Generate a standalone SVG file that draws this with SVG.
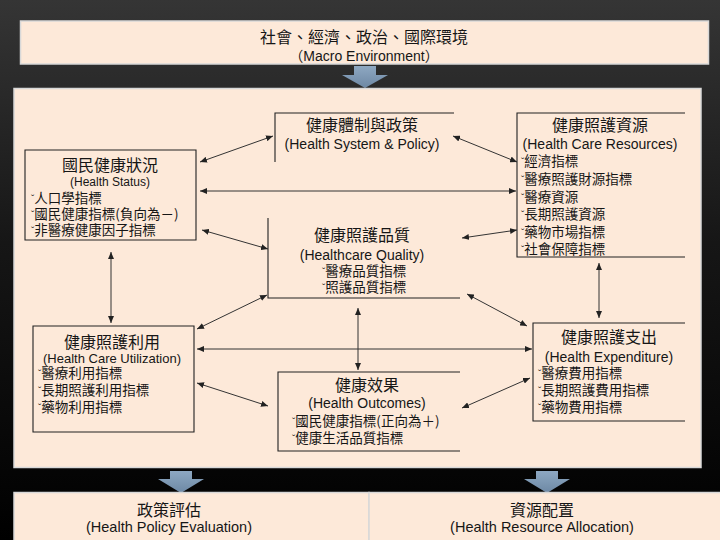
<svg xmlns="http://www.w3.org/2000/svg" width="720" height="540" viewBox="0 0 720 540">
<defs>
<linearGradient id="bg" x1="0" y1="0" x2="0" y2="1">
<stop offset="0" stop-color="#353535"/>
<stop offset="0.45" stop-color="#161616"/>
<stop offset="1" stop-color="#000"/>
</linearGradient>
<linearGradient id="ba" x1="0" y1="0" x2="0" y2="1">
<stop offset="0" stop-color="#8ea8c2"/>
<stop offset="1" stop-color="#6d88a4"/>
</linearGradient>
<marker id="ah" markerUnits="userSpaceOnUse" markerWidth="7" markerHeight="6" refX="7" refY="3" orient="auto-start-reverse">
<path d="M0,0 L7,3 L0,6 z" fill="#222"/>
</marker>
</defs>
<style>
.panel{fill:#FDE9D9;stroke:#d8d8d8;stroke-width:1.5}
.edge{fill:none;stroke:#222;stroke-width:1.1}
.con line{stroke:#333;stroke-width:1;marker-start:url(#ah);marker-end:url(#ah)}
text{font-family:"Liberation Sans","Noto Sans CJK TC",sans-serif;fill:#161616}
.t{font-family:"Noto Sans CJK TC","Liberation Sans",sans-serif;font-size:16px;text-anchor:middle}
.s{font-size:14px;text-anchor:middle}
.b{font-family:"Noto Sans CJK TC","Liberation Sans",sans-serif;font-size:13.5px}
.m{font-family:"Liberation Sans",sans-serif;font-size:10px}
.arrow{fill:url(#ba)}
</style>
<rect x="0" y="0" width="720" height="540" fill="url(#bg)"/>

<g id="macro">
<rect class="panel" x="20.5" y="21" width="688" height="43"/>
<text class="t" x="364" y="43">社會、經濟、政治、國際環境</text>
<text class="s" x="364" y="61" style="font-family:'Liberation Sans','Noto Sans CJK TC',sans-serif">（Macro Environment）</text>
</g>
<polygon class="arrow" points="354,66 376,66 376,75 388,75 365,88 342,75 354,75"/>

<rect class="panel" x="14" y="88.5" width="687" height="379"/>

<g id="status">
<path class="edge" d="M25,150 H196 V240 H25 Z"/>
<text class="t" x="110" y="171">國民健康狀況</text>
<text class="s" x="110" y="186" style="font-size:12px">(Health Status)</text>
<text class="b" x="31" y="203"><tspan class="m">ˇ</tspan>人口學指標</text>
<text class="b" x="31" y="219"><tspan class="m">ˇ</tspan>國民健康指標(負向為－)</text>
<text class="b" x="31" y="235"><tspan class="m">ˇ</tspan>非醫療健康因子指標</text>
</g>

<g id="system">
<path class="edge" d="M454,113 H275 V162"/>
<text class="t" x="362" y="131">健康體制與政策</text>
<text class="s" x="362" y="149">(Health System &amp; Policy)</text>
</g>

<g id="resources">
<path class="edge" d="M685,113 H517 V257 H685"/>
<text class="t" x="600" y="131">健康照護資源</text>
<text class="s" x="600" y="149">(Health Care Resources)</text>
<text class="b" x="521" y="166"><tspan class="m">ˇ</tspan>經濟指標</text>
<text class="b" x="521" y="184"><tspan class="m">ˇ</tspan>醫療照護財源指標</text>
<text class="b" x="521" y="202"><tspan class="m">ˇ</tspan>醫療資源</text>
<text class="b" x="521" y="219"><tspan class="m">ˇ</tspan>長期照護資源</text>
<text class="b" x="521" y="237"><tspan class="m">ˇ</tspan>藥物市場指標</text>
<text class="b" x="521" y="254"><tspan class="m">ˇ</tspan>社會保障指標</text>
</g>

<g id="quality">
<path class="edge" d="M268,218 V298 H460"/>
<text class="t" x="362" y="241">健康照護品質</text>
<text class="s" x="362" y="260">(Healthcare Quality)</text>
<text class="b" x="322" y="276"><tspan class="m">ˇ</tspan>醫療品質指標</text>
<text class="b" x="322" y="292"><tspan class="m">ˇ</tspan>照護品質指標</text>
</g>

<g id="utilization">
<path class="edge" d="M33,326 H194 V432 H33 Z"/>
<text class="t" x="112" y="348">健康照護利用</text>
<text class="s" x="112" y="363" style="font-size:13px">(Health Care Utilization)</text>
<text class="b" x="38" y="378"><tspan class="m">ˇ</tspan>醫療利用指標</text>
<text class="b" x="38" y="395"><tspan class="m">ˇ</tspan>長期照護利用指標</text>
<text class="b" x="38" y="412"><tspan class="m">ˇ</tspan>藥物利用指標</text>
</g>

<g id="outcomes">
<path class="edge" d="M460,372 H278 V451 H460"/>
<text class="t" x="367" y="391">健康效果</text>
<text class="s" x="367" y="408">(Health Outcomes)</text>
<text class="b" x="292" y="426"><tspan class="m">ˇ</tspan>國民健康指標(正向為＋)</text>
<text class="b" x="292" y="443"><tspan class="m">ˇ</tspan>健康生活品質指標</text>
</g>

<g id="expenditure">
<path class="edge" d="M685,323 H533 V421 H685"/>
<text class="t" x="609" y="343">健康照護支出</text>
<text class="s" x="609" y="362">(Health Expenditure)</text>
<text class="b" x="538" y="378"><tspan class="m">ˇ</tspan>醫療費用指標</text>
<text class="b" x="538" y="395"><tspan class="m">ˇ</tspan>長期照護費用指標</text>
<text class="b" x="538" y="412"><tspan class="m">ˇ</tspan>藥物費用指標</text>
</g>

<g id="connectors" class="con">
<line x1="273" y1="136" x2="200" y2="162"/>
<line x1="453" y1="136" x2="517" y2="162"/>
<line x1="200" y1="191" x2="516" y2="191"/>
<line x1="202" y1="230" x2="268" y2="249"/>
<line x1="462" y1="238" x2="517" y2="230"/>
<line x1="599" y1="263" x2="599" y2="318"/>
<line x1="111" y1="252" x2="111" y2="323"/>
<line x1="267" y1="295" x2="197" y2="329"/>
<line x1="467" y1="294" x2="527" y2="326"/>
<line x1="358" y1="308" x2="358" y2="370"/>
<line x1="197" y1="349" x2="532" y2="349"/>
<line x1="197" y1="383" x2="268" y2="406"/>
<line x1="462" y1="408" x2="530" y2="378"/>
</g>

<polygon class="arrow" points="170,471 192,471 192,479 204,479 181,493 158,479 170,479"/>
<polygon class="arrow" points="536,471 558,471 558,479 570,479 547,493 524,479 536,479"/>

<g id="evaluation">
<rect class="panel" x="14" y="492.5" width="355" height="50"/>
<text class="t" x="169" y="516">政策評估</text>
<text class="s" x="169" y="532" style="font-size:14.5px">(Health Policy Evaluation)</text>
</g>
<g id="allocation">
<rect class="panel" x="369" y="492.5" width="355" height="50"/>
<text class="t" x="542" y="516">資源配置</text>
<text class="s" x="542" y="532" style="font-size:14.5px">(Health Resource Allocation)</text>
</g>
</svg>
